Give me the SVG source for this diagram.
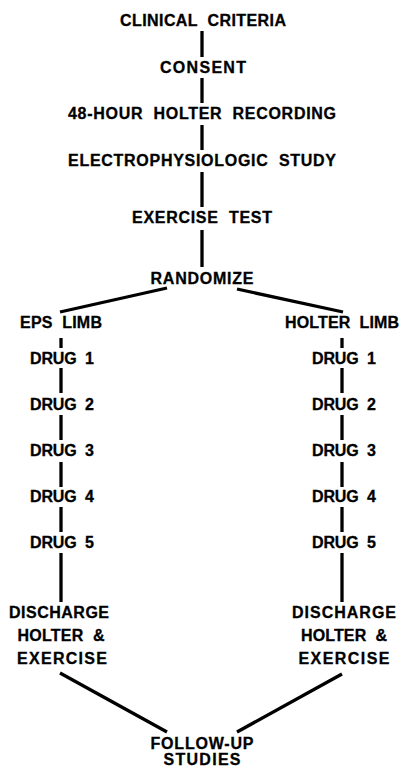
<svg xmlns="http://www.w3.org/2000/svg" width="403" height="768" viewBox="0 0 403 768">
  <style>
    text { font-family: "Liberation Sans", Arial, sans-serif; font-weight: bold; font-size: 16px; fill: #000; stroke: #000; stroke-width: 0.3; text-anchor: middle; white-space: pre; }
    .ln { stroke: #000; stroke-width: 3.3; fill: none; stroke-linecap: butt; }
  </style>
  <rect width="403" height="768" fill="#fff"/>

  <g id="connectors">
    <!-- main spine -->
    <line class="ln" x1="202" y1="31" x2="202" y2="57"/>
    <line class="ln" x1="202" y1="78" x2="202" y2="103"/>
    <line class="ln" x1="202" y1="125" x2="202" y2="150"/>
    <line class="ln" x1="202" y1="172" x2="202" y2="207"/>
    <line class="ln" x1="202" y1="230" x2="202" y2="267"/>
    <!-- split into limbs -->
    <line class="ln" x1="167" y1="288" x2="60" y2="312"/>
    <line class="ln" x1="237" y1="289" x2="343" y2="312"/>
    <!-- EPS limb -->
    <line class="ln" x1="61" y1="338" x2="61" y2="348"/>
    <line class="ln" x1="61" y1="368" x2="61" y2="393"/>
    <line class="ln" x1="61" y1="415" x2="61" y2="440"/>
    <line class="ln" x1="61" y1="462" x2="61" y2="487"/>
    <line class="ln" x1="61" y1="507" x2="61" y2="532"/>
    <line class="ln" x1="61" y1="553" x2="61" y2="602"/>
    <!-- Holter limb -->
    <line class="ln" x1="342" y1="338" x2="342" y2="348"/>
    <line class="ln" x1="342" y1="368" x2="342" y2="393"/>
    <line class="ln" x1="342" y1="415" x2="342" y2="440"/>
    <line class="ln" x1="342" y1="462" x2="342" y2="487"/>
    <line class="ln" x1="342" y1="507" x2="342" y2="532"/>
    <line class="ln" x1="342" y1="553" x2="342" y2="602"/>
    <!-- merge to follow-up -->
    <line class="ln" x1="60" y1="673" x2="167" y2="732"/>
    <line class="ln" x1="342" y1="674" x2="237" y2="732"/>
  </g>

  <g id="clinical-criteria"><text x="203" y="26" textLength="166" lengthAdjust="spacing">CLINICAL  CRITERIA</text></g>
  <g id="consent"><text x="203" y="73" textLength="86" lengthAdjust="spacing">CONSENT</text></g>
  <g id="holter-recording"><text x="202" y="119" textLength="268" lengthAdjust="spacing">48-HOUR  HOLTER  RECORDING</text></g>
  <g id="ep-study"><text x="202" y="166" textLength="268" lengthAdjust="spacing">ELECTROPHYSIOLOGIC  STUDY</text></g>
  <g id="exercise-test"><text x="202" y="223" textLength="140" lengthAdjust="spacing">EXERCISE  TEST</text></g>
  <g id="randomize"><text x="202" y="284" textLength="103" lengthAdjust="spacing">RANDOMIZE</text></g>

  <g id="eps-limb"><text x="61" y="328" textLength="82" lengthAdjust="spacing">EPS  LIMB</text></g>
  <g id="eps-drug-1"><text x="62" y="364" textLength="64" lengthAdjust="spacing">DRUG  1</text></g>
  <g id="eps-drug-2"><text x="62" y="410" textLength="64" lengthAdjust="spacing">DRUG  2</text></g>
  <g id="eps-drug-3"><text x="62" y="456" textLength="64" lengthAdjust="spacing">DRUG  3</text></g>
  <g id="eps-drug-4"><text x="62" y="502" textLength="64" lengthAdjust="spacing">DRUG  4</text></g>
  <g id="eps-drug-5"><text x="62" y="548" textLength="64" lengthAdjust="spacing">DRUG  5</text></g>
  <g id="eps-discharge">
    <text x="59" y="618" textLength="100" lengthAdjust="spacing">DISCHARGE</text>
    <text x="61" y="641" textLength="87" lengthAdjust="spacing">HOLTER  &amp;</text>
    <text x="62" y="664" textLength="90" lengthAdjust="spacing">EXERCISE</text>
  </g>

  <g id="holter-limb"><text x="342" y="328" textLength="114" lengthAdjust="spacing">HOLTER  LIMB</text></g>
  <g id="holter-drug-1"><text x="344" y="364" textLength="64" lengthAdjust="spacing">DRUG  1</text></g>
  <g id="holter-drug-2"><text x="344" y="410" textLength="64" lengthAdjust="spacing">DRUG  2</text></g>
  <g id="holter-drug-3"><text x="344" y="456" textLength="64" lengthAdjust="spacing">DRUG  3</text></g>
  <g id="holter-drug-4"><text x="344" y="502" textLength="64" lengthAdjust="spacing">DRUG  4</text></g>
  <g id="holter-drug-5"><text x="344" y="548" textLength="64" lengthAdjust="spacing">DRUG  5</text></g>
  <g id="holter-discharge">
    <text x="344" y="618" textLength="104" lengthAdjust="spacing">DISCHARGE</text>
    <text x="344" y="641" textLength="86" lengthAdjust="spacing">HOLTER  &amp;</text>
    <text x="344" y="664" textLength="91" lengthAdjust="spacing">EXERCISE</text>
  </g>

  <g id="follow-up">
    <text x="202" y="749" textLength="103" lengthAdjust="spacing">FOLLOW-UP</text>
    <text x="202" y="765" textLength="77" lengthAdjust="spacing">STUDIES</text>
  </g>
</svg>
